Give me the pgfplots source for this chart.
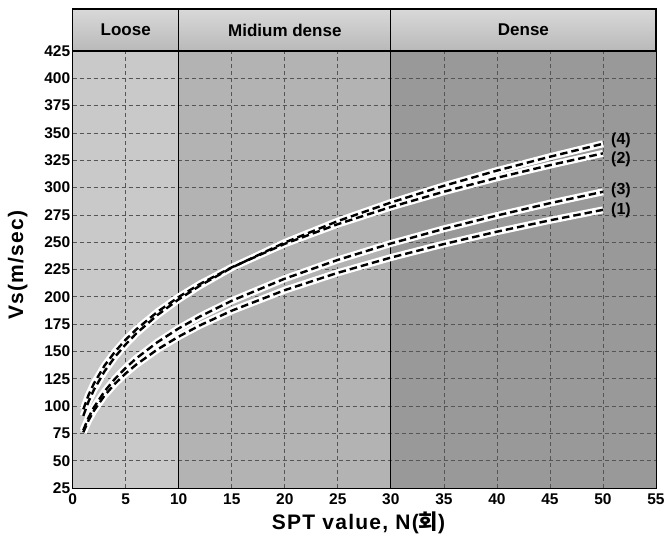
\documentclass[border=0pt]{standalone}
\usepackage{pgfplots}
\pgfplotsset{compat=1.18}
\usepackage{pgfplotstable}
\usepackage{fontspec}
\setmainfont{Liberation Sans}
\newfontfamily\krfont{Noto Sans CJK KR}

\definecolor{looseband}{HTML}{C9C9C9}
\definecolor{midband}{HTML}{B3B3B3}
\definecolor{denseband}{HTML}{999999}
\definecolor{gridgray}{HTML}{555555}

% Vs (m/sec) against SPT N for four empirical relations
\pgfplotstableread{
N    Vs
1    91.0
1.5  104.3
2    114.9
3    131.8
4    145.2
5    156.5
6    166.5
8    183.4
10   197.7
12   210.2
15   226.7
20   249.7
25   269.3
30   286.3
35   301.6
40   315.5
45   328.2
50   340.1
}\curvefour
\pgfplotstableread{
N    Vs
1    97.0
1.5  110.2
2    120.6
3    137.0
4    149.9
5    160.8
6    170.2
8    186.3
10   199.9
12   211.7
15   227.0
20   248.5
25   266.5
30   282.2
35   296.2
40   308.9
45   320.5
50   331.3
}\curvetwo
\pgfplotstableread{
N    Vs
1    78.0
1.5  89.6
2    98.8
3    113.4
4    125.1
5    135.0
6    143.7
8    158.5
10   171.1
12   182.0
15   196.4
20   216.6
25   233.8
30   248.8
35   262.2
40   274.4
45   285.7
50   296.1
}\curvethree
\pgfplotstableread{
N    Vs
1    76.0
1.5  87.0
2    95.7
3    109.6
4    120.6
5    129.9
6    138.0
8    151.9
10   163.6
12   173.9
15   187.3
20   206.1
25   222.0
30   235.9
35   248.3
40   259.6
45   270.0
50   279.6
}\curveone

\tikzset{
  gridline/.style={gridgray, line width=0.7pt, dash pattern=on 4pt off 3pt},
  classlabel/.style={font=\fontsize{17}{19}\selectfont\bfseries},
  curvelabel/.style={font=\fontsize{16}{18}\selectfont\bfseries},
}

\begin{document}
\begin{tikzpicture}
\useasboundingbox (-72.7pt,-46pt) rectangle (592.3pt,488pt);
\begin{axis}[
  scale only axis,
  width=583.3pt, height=437pt,
  xmin=0, xmax=55, ymin=25, ymax=425,
  xtick={0,5,...,55}, ytick={25,50,...,425},
  major tick length=0pt,
  axis line style={black, line width=1.3pt},
  clip=false,
  /pgf/number format/assume math mode=true,
  ticklabel style={font=\fontsize{15.5}{17}\selectfont\bfseries},
  yticklabel style={xshift=1pt},
  xticklabel style={yshift=-2.5pt},
  xlabel={\addfontfeatures{LetterSpace=6}SPT value, N({\krfont 회})},
  ylabel={\addfontfeatures{LetterSpace=6}Vs(m/sec)},
  every axis x label/.style={at={(rel axis cs:0.49,0)}, yshift=-35pt, anchor=center,
    font=\fontsize{21}{24}\selectfont\bfseries},
  every axis y label/.style={at={(rel axis cs:0,0.51)}, xshift=-55pt, anchor=center,
    rotate=90, font=\fontsize{21}{24}\selectfont\bfseries},
]
% density bands
\fill[looseband] (axis cs:0,25) rectangle (axis cs:10,425);
\fill[midband] (axis cs:10,25) rectangle (axis cs:30,425);
\fill[denseband] (axis cs:30,25) rectangle (axis cs:55,425);

% dashed grid
\pgfplotsinvokeforeach{5,15,20,25,35,40,45,50}{
  \draw[gridline] (axis cs:#1,25) -- (axis cs:#1,425);
}
\pgfplotsinvokeforeach{50,75,100,125,150,175,200,225,250,275,300,325,350,375,400}{
  \draw[gridline] (axis cs:0,#1) -- (axis cs:55,#1);
}

% header strip with the density classes
\shade[top color=gray!30, middle color=white, bottom color=gray!55]
  (axis cs:0,425) rectangle (axis cs:55,463.44);
\draw[black, line width=1.3pt] (axis cs:0,425) rectangle (axis cs:55,463.44);
\draw[black, line width=0.9pt] (axis cs:10,25) -- (axis cs:10,463.44);
\draw[black, line width=0.9pt] (axis cs:30,25) -- (axis cs:30,463.44);
\node[classlabel] at (axis cs:5,444.2) {Loose};
\node[classlabel] at (axis cs:20,444.2) {Midium dense};
\node[classlabel] at (axis cs:42.5,444.2) {Dense};

% white casing under each curve
\addplot[white, line width=7pt, no markers] table[x=N, y=Vs] {\curvefour};
\addplot[white, line width=7pt, no markers] table[x=N, y=Vs] {\curvetwo};
\addplot[white, line width=7pt, no markers] table[x=N, y=Vs] {\curvethree};
\addplot[white, line width=7pt, no markers] table[x=N, y=Vs] {\curveone};
% dashed centre lines
\addplot[black, line width=2.4pt, dash pattern=on 7.5pt off 4pt, no markers] table[x=N, y=Vs] {\curvefour};
\addplot[black, line width=2.4pt, dash pattern=on 7.5pt off 4pt, no markers] table[x=N, y=Vs] {\curvetwo};
\addplot[black, line width=2.4pt, dash pattern=on 7.5pt off 4pt, no markers] table[x=N, y=Vs] {\curvethree};
\addplot[black, line width=2.4pt, dash pattern=on 7.5pt off 4pt, no markers] table[x=N, y=Vs] {\curveone};

\node[curvelabel] at (axis cs:51.7,342.9) {(4)};
\node[curvelabel] at (axis cs:51.7,325.9) {(2)};
\node[curvelabel] at (axis cs:51.7,297.8) {(3)};
\node[curvelabel] at (axis cs:51.7,279.5) {(1)};
\end{axis}
\end{tikzpicture}
\end{document}
